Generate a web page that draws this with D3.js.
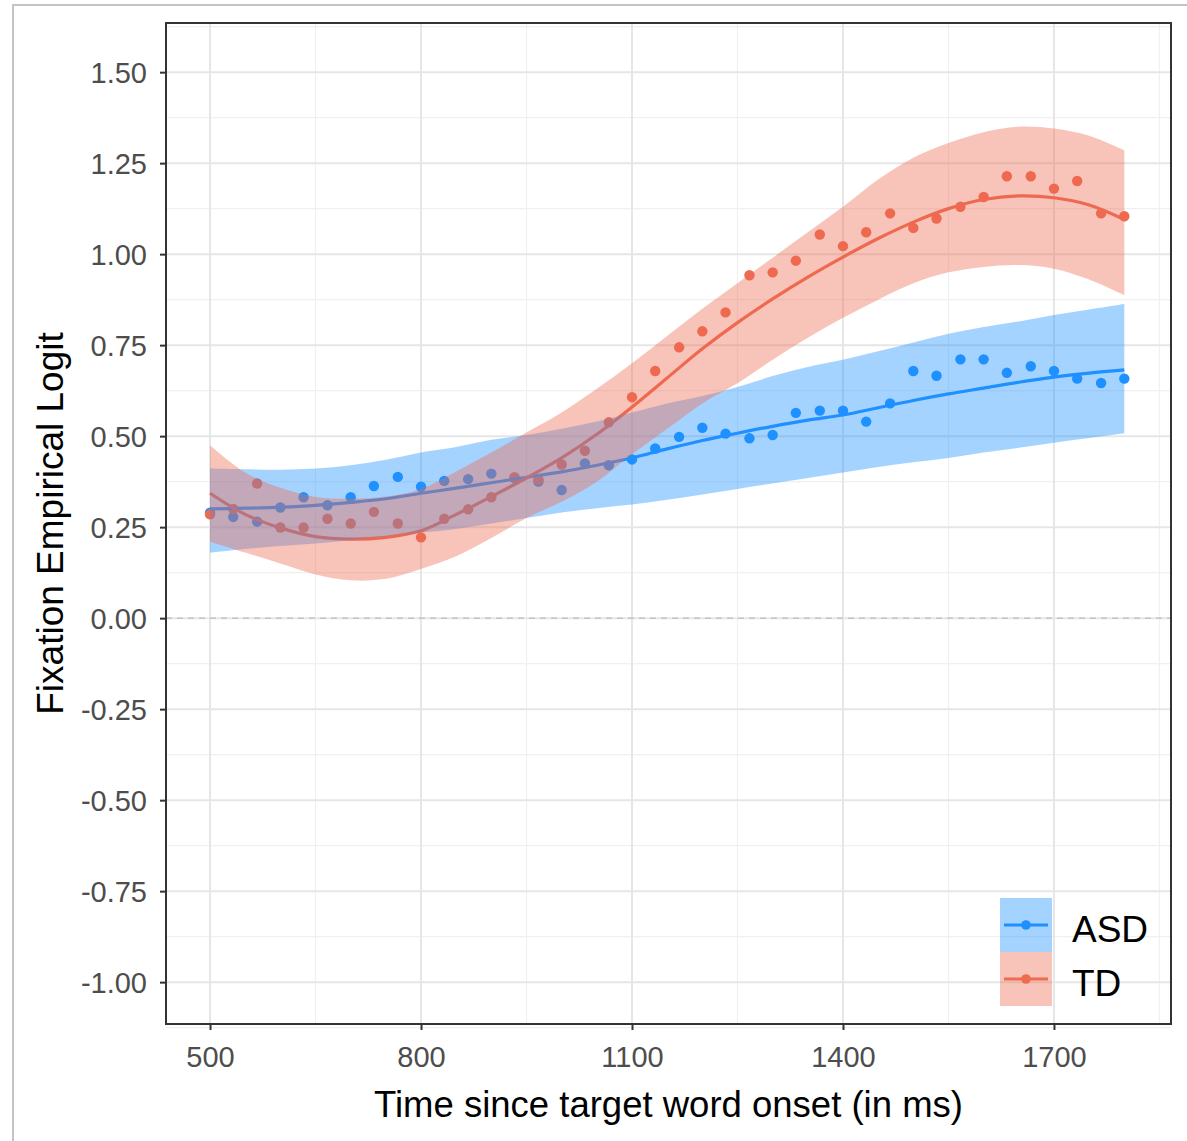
<!DOCTYPE html>
<html>
<head>
<meta charset="utf-8">
<script src="https://d3js.org/d3.v7.min.js"></script>
<style>
  body { margin: 0; background: #fff; }
  text { font-family: "Liberation Sans", Arial, sans-serif; }
</style>
</head>
<body>
<div id="chart"></div>
<script>
// time bins of the observed points (ms)
var timeBins = [500, 533, 567, 600, 633, 667, 700, 733, 767, 800,
                833, 867, 900, 933, 967, 1000, 1033, 1067, 1100, 1133,
                1167, 1200, 1233, 1267, 1300, 1333, 1367, 1400, 1433, 1467,
                1500, 1533, 1567, 1600, 1633, 1667, 1700, 1733, 1767, 1800];

// observed empirical logit per bin
var asdPts = [0.290, 0.278, 0.265, 0.304, 0.332, 0.310, 0.332, 0.363, 0.388, 0.361,
              0.377, 0.382, 0.397, 0.385, 0.375, 0.352, 0.425, 0.420, 0.436, 0.466,
              0.498, 0.523, 0.507, 0.494, 0.503, 0.564, 0.570, 0.570, 0.540, 0.590,
              0.679, 0.666, 0.711, 0.711, 0.674, 0.692, 0.679, 0.658, 0.646, 0.658];
var tdPts  = [0.285, 0.300, 0.370, 0.249, 0.249, 0.273, 0.260, 0.292, 0.260, 0.222,
              0.273, 0.299, 0.332, 0.387, 0.381, 0.422, 0.460, 0.538, 0.607, 0.679,
              0.744, 0.788, 0.840, 0.942, 0.950, 0.982, 1.054, 1.022, 1.060, 1.112,
              1.072, 1.098, 1.130, 1.157, 1.214, 1.214, 1.180, 1.201, 1.112, 1.104];

// fitted curves and their bands, read every 50 ms
var fitTime = [500, 550, 600, 650, 700, 750, 800, 850, 900, 950, 1000, 1050, 1100, 1150,
               1200, 1250, 1300, 1350, 1400, 1450, 1500, 1550, 1600, 1650, 1700, 1750, 1800];
var asdFit = [0.300, 0.302, 0.305, 0.310, 0.318, 0.328, 0.343, 0.357, 0.372, 0.387, 0.402, 0.420, 0.440, 0.465,
              0.488, 0.508, 0.527, 0.544, 0.558, 0.578, 0.598, 0.616, 0.632, 0.648, 0.662, 0.673, 0.682];
var asdHi  = [0.411, 0.409, 0.408, 0.411, 0.420, 0.435, 0.455, 0.470, 0.490, 0.503, 0.520, 0.540, 0.565, 0.590,
              0.610, 0.635, 0.665, 0.690, 0.710, 0.733, 0.757, 0.781, 0.800, 0.815, 0.833, 0.848, 0.863];
var asdLo  = [0.180, 0.190, 0.198, 0.205, 0.215, 0.225, 0.235, 0.245, 0.260, 0.275, 0.290, 0.302, 0.312, 0.325,
              0.340, 0.355, 0.370, 0.385, 0.400, 0.415, 0.428, 0.440, 0.455, 0.468, 0.482, 0.495, 0.508];
var tdFit  = [0.343, 0.285, 0.248, 0.224, 0.217, 0.222, 0.240, 0.285, 0.334, 0.385, 0.440, 0.505, 0.580, 0.660,
              0.740, 0.812, 0.877, 0.937, 0.992, 1.043, 1.088, 1.125, 1.150, 1.160, 1.155, 1.135, 1.095];
var tdHi   = [0.475, 0.400, 0.358, 0.333, 0.328, 0.334, 0.355, 0.403, 0.455, 0.510, 0.565, 0.630, 0.700, 0.775,
              0.850, 0.920, 0.990, 1.060, 1.130, 1.205, 1.265, 1.305, 1.335, 1.350, 1.345, 1.325, 1.285];
var tdLo   = [0.210, 0.180, 0.150, 0.120, 0.104, 0.108, 0.135, 0.170, 0.220, 0.275, 0.320, 0.375, 0.450, 0.520,
              0.590, 0.645, 0.710, 0.770, 0.825, 0.875, 0.920, 0.950, 0.965, 0.970, 0.960, 0.930, 0.887];

var xTicks = [500, 800, 1100, 1400, 1700];
var xMinor = [650, 950, 1250, 1550, 1850];
var yTicks = [-1.00, -0.75, -0.50, -0.25, 0.00, 0.25, 0.50, 0.75, 1.00, 1.25, 1.50];
var yMinor = [-1.125, -0.875, -0.625, -0.375, -0.125, 0.125, 0.375, 0.625, 0.875, 1.125, 1.375, 1.625];

var groups = ["ASD", "TD"];
var colors = {ASD: "#1E90FF", TD: "#EE6A50"};

var W = 1187, H = 1141;
var panel = {left: 166, right: 1171, top: 23, bottom: 1024};

var svg = d3.select("#chart").append("svg")
    .attr("width", W).attr("height", H);

svg.append("rect").attr("width", W).attr("height", H).attr("fill", "#fff");

// outer window frame
svg.append("path")
    .attr("d", "M13," + H + "V5H" + W)
    .attr("fill", "none").attr("stroke", "#c4c4c4").attr("stroke-width", 2);

var x = d3.scaleLinear().domain([437.4, 1866.4]).range([panel.left, panel.right]);
var y = d3.scaleLinear().domain([-1.115, 1.635]).range([panel.bottom, panel.top]);

// grid
var grid = svg.append("g");
grid.selectAll(".xm").data(xMinor).enter().append("line")
    .attr("x1", d => x(d)).attr("x2", d => x(d))
    .attr("y1", panel.top).attr("y2", panel.bottom)
    .attr("stroke", "#f0f0f0").attr("stroke-width", 1.2);
grid.selectAll(".ym").data(yMinor).enter().append("line")
    .attr("y1", d => y(d)).attr("y2", d => y(d))
    .attr("x1", panel.left).attr("x2", panel.right)
    .attr("stroke", "#f0f0f0").attr("stroke-width", 1.2);
grid.selectAll(".xM").data(xTicks).enter().append("line")
    .attr("x1", d => x(d)).attr("x2", d => x(d))
    .attr("y1", panel.top).attr("y2", panel.bottom)
    .attr("stroke", "#e6e6e6").attr("stroke-width", 2);
grid.selectAll(".yM").data(yTicks).enter().append("line")
    .attr("y1", d => y(d)).attr("y2", d => y(d))
    .attr("x1", panel.left).attr("x2", panel.right)
    .attr("stroke", "#e6e6e6").attr("stroke-width", 2);

// zero reference
svg.append("line")
    .attr("x1", panel.left).attr("x2", panel.right)
    .attr("y1", y(0)).attr("y2", y(0))
    .attr("stroke", "#bdbdbd").attr("stroke-width", 1.3)
    .attr("stroke-dasharray", "6,5");

var pts = {ASD: asdPts, TD: tdPts};
var fits = {ASD: asdFit, TD: tdFit};
var his = {ASD: asdHi, TD: tdHi};
var los = {ASD: asdLo, TD: tdLo};

// points
groups.forEach(function(g) {
    svg.append("g").selectAll("circle")
        .data(timeBins).enter().append("circle")
        .attr("cx", d => x(d))
        .attr("cy", (d, i) => y(pts[g][i]))
        .attr("r", 5.2)
        .attr("fill", colors[g]);
});

// fitted lines
var line = d3.line()
    .x(d => x(d[0])).y(d => y(d[1]))
    .curve(d3.curveCatmullRom);
groups.forEach(function(g) {
    svg.append("path")
        .datum(fitTime.map((t, i) => [t, fits[g][i]]))
        .attr("d", line)
        .attr("fill", "none")
        .attr("stroke", colors[g])
        .attr("stroke-width", 3.2);
});

// confidence ribbons on top
var area = d3.area()
    .x(d => x(d[0])).y0(d => y(d[1])).y1(d => y(d[2]))
    .curve(d3.curveCatmullRom);
groups.forEach(function(g) {
    svg.append("path")
        .datum(fitTime.map((t, i) => [t, los[g][i], his[g][i]]))
        .attr("d", area)
        .attr("fill", colors[g])
        .attr("fill-opacity", 0.4);
});

// panel border
svg.append("rect")
    .attr("x", panel.left).attr("y", panel.top)
    .attr("width", panel.right - panel.left).attr("height", panel.bottom - panel.top)
    .attr("fill", "none").attr("stroke", "#333").attr("stroke-width", 2);

// axes
var fmt = d3.format(".2f");
var yAxis = svg.append("g")
    .attr("transform", "translate(" + panel.left + ",0)")
    .call(d3.axisLeft(y).tickValues(yTicks)
        .tickFormat(d => fmt(d).replace("\u2212", "-"))
        .tickSize(6).tickPadding(13));
var xAxis = svg.append("g")
    .attr("transform", "translate(0," + panel.bottom + ")")
    .call(d3.axisBottom(x).tickValues(xTicks).tickFormat(d3.format("d")).tickSize(6).tickPadding(11));
[xAxis, yAxis].forEach(function(a) {
    a.select(".domain").remove();
    a.selectAll(".tick line").attr("stroke", "#333").attr("stroke-width", 2);
    a.selectAll(".tick text")
        .attr("fill", "#4d4d4d")
        .style("font-size", "29px")
        .style("font-family", "'Liberation Sans', Arial, sans-serif");
});
yAxis.selectAll(".tick text").attr("dy", "0.36em");
xAxis.selectAll(".tick text").attr("dy", "0.9em");

// axis titles
svg.append("text")
    .attr("x", (panel.left + panel.right) / 2).attr("y", 1117)
    .attr("text-anchor", "middle")
    .style("font-size", "36.5px")
    .text("Time since target word onset (in ms)");
svg.append("text")
    .attr("transform", "translate(63," + ((panel.top + panel.bottom) / 2) + ") rotate(-90)")
    .attr("text-anchor", "middle")
    .style("font-size", "37px")
    .text("Fixation Empirical Logit");

// legend
var legend = svg.append("g").attr("transform", "translate(1000,898)");
groups.forEach(function(g, i) {
    var k = legend.append("g").attr("transform", "translate(0," + (i * 54) + ")");
    k.append("rect").attr("width", 52).attr("height", 54)
        .attr("fill", colors[g]).attr("fill-opacity", 0.4);
    k.append("line").attr("x1", 4).attr("x2", 48).attr("y1", 27).attr("y2", 27)
        .attr("stroke", colors[g]).attr("stroke-width", 3);
    k.append("circle").attr("cx", 26).attr("cy", 27).attr("r", 4.8).attr("fill", colors[g]);
    k.append("text").attr("x", 72).attr("y", 31).attr("dy", "0.36em")
        .style("font-size", "37px")
        .text(g);
});
</script>
</body>
</html>
